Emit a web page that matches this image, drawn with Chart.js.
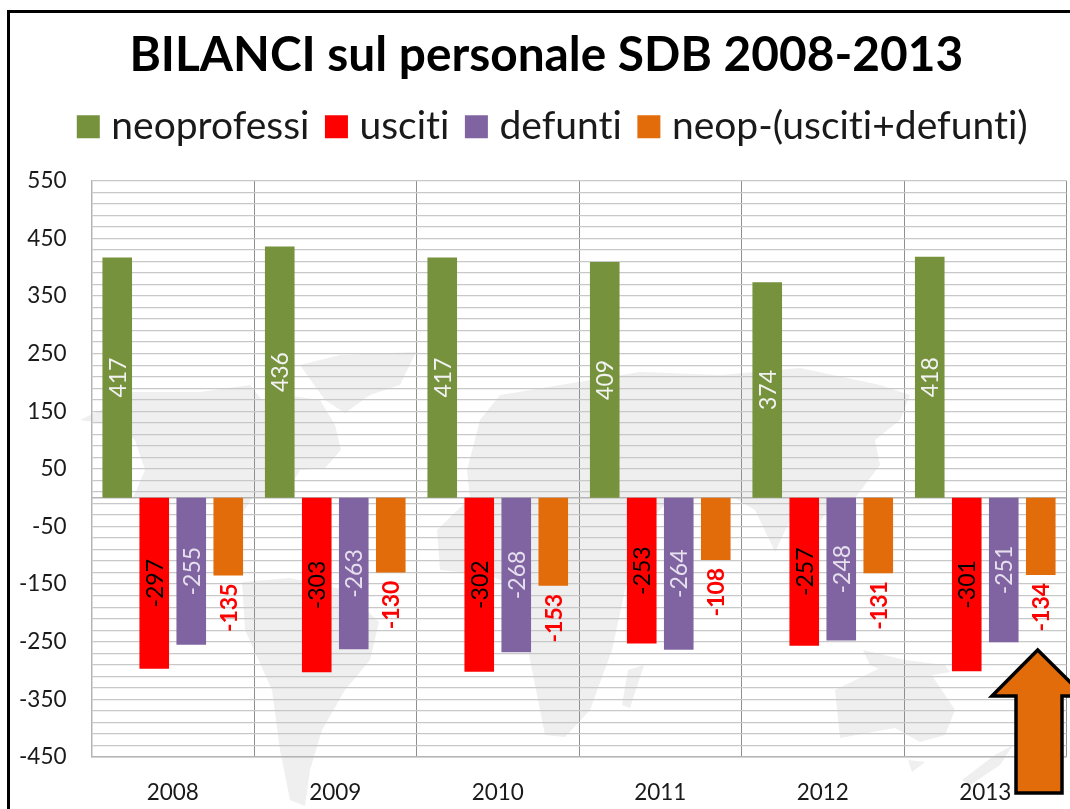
<!DOCTYPE html>
<html><head><meta charset="utf-8">
<style>
html,body{margin:0;padding:0;background:#fff;overflow:hidden}
#wrap{position:relative;width:1070px;height:809px;overflow:hidden;background:#fff}
#frame{position:absolute;left:7px;top:10px;width:1080px;height:820px;border-left:3px solid #000;border-top:3px solid #000}
svg{position:absolute;left:0;top:0}
canvas{position:absolute;left:0;top:0}
</style>
<script src="https://cdn.jsdelivr.net/npm/chart.js@4"></script>
</head><body>
<div id="wrap">
<svg id="map" width="1070" height="809" viewBox="0 0 1070 809">
<g fill="#efefef">
<path d="M80 420 L105 408 L133 392 L200 392 L250 385 L262 400 L292 396 L320 400 L335 425 L341 450 L325 468 L300 470 L285 497 L252 498 L238 520 L232 498 L133 498 L145 470 L135 440 L115 425Z"/>
<path d="M300 365 L340 355 L416 352 L400 385 L370 395 L345 413 L325 400Z"/>
<path d="M242 582 L290 578 L345 590 L379 622 L370 660 L345 690 L322 730 L310 770 L305 806 L290 800 L280 750 L272 690 L245 630Z"/>
<path d="M467 470 L480 420 L500 395 L560 385 L640 372 L720 375 L800 368 L880 385 L910 395 L900 420 L875 440 L880 465 L855 498 L835 498 L815 530 L795 510 L775 552 L755 510 L735 498 L700 498 L670 500 L640 530 L625 590 L612 650 L590 710 L565 737 L545 735 L530 660 L520 590 L490 575 L440 570 L437 530 L470 498Z"/>
<path d="M863 650 L905 660 L945 665 L950 672 L905 680 L870 665Z"/>
<path d="M835 690 L880 668 L905 672 L925 665 L955 710 L945 735 L920 742 L895 728 L840 738Z"/>
<path d="M628 670 L644 665 L630 708 L622 705Z"/>
<path d="M962 780 L995 755 L1013 745 L1000 765 L970 785Z"/>
<path d="M908 760 L925 762 L912 772Z"/>
</g>
</svg>
<div id="frame"></div>
<canvas id="c" width="1070" height="809"></canvas>
<svg id="arrow" width="1070" height="809" viewBox="0 0 1070 809">
<path d="M1037.7 650 L1084 696 L1062 696 L1062 793 L1016 793 L1016 696 L992 696 Z" fill="#E36C0A" stroke="#000" stroke-width="3.5" stroke-linejoin="miter"/>
</svg>
</div>
<script>
const FONT = 'Lato, Carlito, "Open Sans", sans-serif';
const titleText = 'BILANCI sul personale SDB 2008-2013';
const categories = ['2008','2009','2010','2011','2012','2013'];
const neoprofessi = [417,436,417,409,374,418];
const usciti = [-297,-303,-302,-253,-257,-301];
const defunti = [-255,-263,-268,-264,-248,-251];
const saldo = [-135,-130,-153,-108,-131,-134];
const seriesNames = ['neoprofessi','usciti','defunti','neop-(usciti+defunti)'];
const seriesColors = ['#76923C','#FF0000','#8064A2','#E36C0A'];
const labelColors = ['#F2F2F2','#000000','#E6E0EE','#FF0000'];

const setup = {
  id:'setup',
  beforeLayout(chart){
    chart.ctx.textRendering = 'optimizeSpeed';
    const lg = chart.legend;
    if(lg && !lg._fitWrapped){
      const fit = lg.fit;
      lg.fit = function(){ fit.call(this); this.height += 24.5; };
      lg._fitWrapped = true;
    }
  },
  afterLayout(chart){
    chart.scales.y.left = 0;
    if(chart.legend){ chart.legend.left += 10; chart.legend.right += 10; }
  },
  beforeDraw(chart){ chart.ctx.textRendering = 'optimizeSpeed'; }
};
const barLabels = {
  id:'barLabels',
  afterDatasetsDraw(chart){
    const ctx = chart.ctx;
    chart.data.datasets.forEach((ds,di)=>{
      const meta = chart.getDatasetMeta(di);
      meta.data.forEach((bar,i)=>{
        ctx.save();
        const outside = di===3;
        const y = outside ? bar.y+8 : (bar.y+bar.base)/2;
        ctx.translate(bar.x+1, y);
        ctx.rotate(-Math.PI/2);
        ctx.fillStyle = labelColors[di];
        ctx.font = (outside?'bold ':'')+'23px '+FONT;
        ctx.textAlign = outside?'right':'center';
        ctx.textBaseline = 'middle';
        ctx.fillText(String(ds.data[i]),0,0);
        ctx.restore();
      });
    });
  }
};
const zeroLine = {
  id:'zeroLine',
  beforeDatasetsDraw(chart){
    const {ctx,chartArea:a,scales:{y}} = chart;
    const p = y.getPixelForValue(0);
    ctx.save();ctx.strokeStyle='#b5b5b5';ctx.lineWidth=1.5;
    ctx.beginPath();ctx.moveTo(a.left,p);ctx.lineTo(a.right,p);ctx.stroke();ctx.restore();
  }
};

new Chart(document.getElementById('c'),{
  type:'bar',
  data:{labels:categories,datasets:[neoprofessi,usciti,defunti,saldo].map((d,i)=>({
    label:seriesNames[i],data:d,backgroundColor:seriesColors[i],borderWidth:0,
    categoryPercentage:0.911,barPercentage:0.8
  }))},
  plugins:[setup,barLabels,zeroLine],
  options:{
    responsive:false,animation:false,
    layout:{padding:{left:26,right:3.5,top:32,bottom:0}},
    plugins:{
      title:{display:true,text:titleText,color:'#000',font:{family:FONT,size:47.8,weight:'bold',lineHeight:1.0},padding:{top:0,bottom:4}},
      legend:{position:'top',labels:{boxWidth:7,boxHeight:7,color:'#1a1a1a',padding:23.5,font:{family:FONT,size:39,lineHeight:1},
        generateLabels(chart){
          return Chart.defaults.plugins.legend.labels.generateLabels(chart).map(l=>Object.assign(l,{lineWidth:16,strokeStyle:l.fillStyle,lineJoin:'miter'}));
        }}},
      tooltip:{enabled:false}
    },
    scales:{
      x:{
        offset:true,
        afterFit(s){s.height=52;},
        grid:{drawTicks:false,color(c){return (c.index===6||c.index===0)?'#b5b5b5':'#8f8f8f';},lineWidth:1},
        border:{color:'#b5b5b5',width:1.5},
        ticks:{color:'#1a1a1a',padding:22,font:{family:FONT,size:22.5},maxRotation:0}
      },
      y:{
        min:-450,max:550,
        afterFit(s){s.width=65.5;},
        grid:{drawTicks:false,color:'#c8c8c8',lineWidth:1.3},
        border:{color:'#b5b5b5',width:1.5},
        ticks:{stepSize:20,autoSkip:false,color:'#1a1a1a',padding:25,font:{family:FONT,size:22.5},
          callback(v){return ((v+450)%100===0)?String(v):'';}}
      }
    }
  }
});
</script>
</body></html>
